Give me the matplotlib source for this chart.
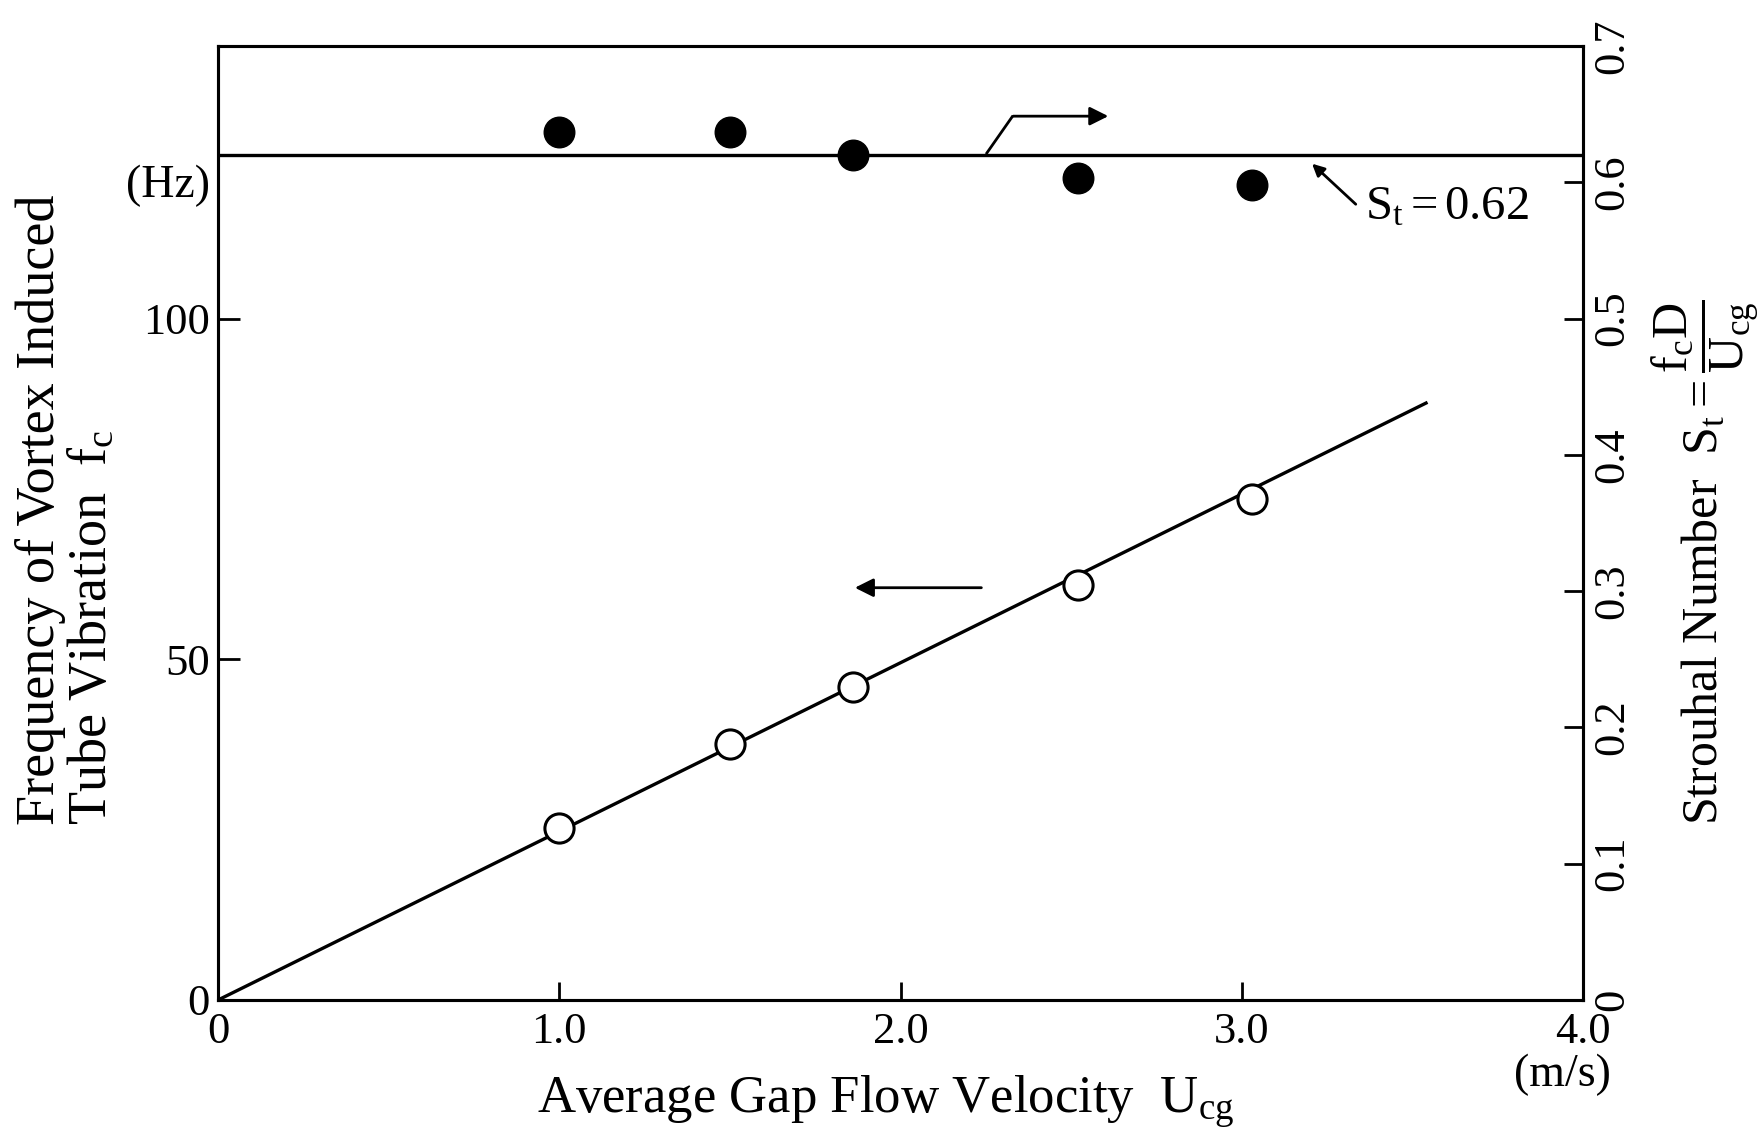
import numpy as np
import matplotlib.pyplot as plt

# serif look like the original figure
plt.rcParams['font.family'] = 'Liberation Serif'
plt.rcParams['mathtext.fontset'] = 'custom'
plt.rcParams['mathtext.rm'] = 'Liberation Serif'
plt.rcParams['mathtext.it'] = 'Liberation Serif:italic'
plt.rcParams['mathtext.bf'] = 'Liberation Serif:bold'

# gap flow velocity of each test (m/s)
u_cg = [1.0, 1.5, 1.86, 2.52, 3.03]
# vortex induced frequency fc (Hz) -> open circles, left axis
f_c = [25.3, 37.6, 45.9, 60.9, 73.5]
# strouhal number -> filled circles, right axis
s_t = [0.637, 0.637, 0.620, 0.603, 0.598]
st_line = 0.62

# straight line through the frequencies
fit_u = [0, 3.54]
fit_f = [0, 87.6]

x_ticks = [0, 1, 2, 3, 4]
x_labels = ['0', '1.0', '2.0', '3.0', '4.0']
f_ticks = [0, 50, 100]
f_labels = ['0', '50', '100']
st_ticks = [0, 0.1, 0.2, 0.3, 0.4, 0.5, 0.6, 0.7]
st_labels = ['0', '0.1', '0.2', '0.3', '0.4', '0.5', '0.6', '0.7']

fig = plt.figure(figsize=(17.63, 11.27), dpi=100)
ax = fig.add_axes([0.1237, 0.1127, 0.8979 - 0.1237, 0.9592 - 0.1127])
ax2 = ax.twinx()

lw = 2.2
for a in (ax, ax2):
    for s in a.spines.values():
        s.set_linewidth(lw)

# left axis: frequency
ax.plot(fit_u, fit_f, color='black', lw=2.4, zorder=2)
ax.plot(u_cg, f_c, 'o', ms=21, mfc='white', mec='black', mew=2.2, zorder=3)
ax.set_xlim(0, 4)
ax.set_ylim(0, 140)
ax.set_xticks(x_ticks)
ax.set_xticklabels(x_labels)
ax.set_yticks(f_ticks)
ax.set_yticklabels(f_labels)
ax.tick_params(axis='x', direction='in', length=13, width=2, labelsize=32, pad=9)
ax.tick_params(axis='y', direction='in', length=16, width=2, labelsize=32, pad=6)

# right axis: strouhal number
ax2.axhline(st_line, color='black', lw=2.4, zorder=2)
ax2.plot(u_cg, s_t, 'o', ms=22, color='black', zorder=3)
ax2.set_ylim(0, 0.7)
ax2.set_yticks(st_ticks)
ax2.set_yticklabels(st_labels, rotation=90, va='center')
ax2.tick_params(axis='y', direction='in', length=14, width=2, labelsize=32, pad=7)

# arrows pointing at the axes each series belongs to
ax.annotate('', xy=(1.858, 60.5), xytext=(2.245, 60.5),
            arrowprops=dict(arrowstyle='-|>', color='black', lw=2, mutation_scale=28))
ax.plot([2.253, 2.327], [124.3, 129.6], color='black', lw=2)
ax.annotate('', xy=(2.617, 129.7), xytext=(2.322, 129.7),
            arrowprops=dict(arrowstyle='-|>', color='black', lw=2, mutation_scale=28))

# St = 0.62 label
ax.annotate('', xy=(3.2, 123.0), xytext=(3.34, 116.5),
            arrowprops=dict(arrowstyle='-|>', color='black', lw=2, mutation_scale=18))
ax.text(3.361, 114.6, r'$\mathrm{S_t}$$=$0.62', fontsize=35, ha='left', va='baseline')

# axis labels
fig.text(0.0227, 0.268, 'Frequency of Vortex Induced', fontsize=39, rotation=90,
         ha='center', va='bottom')
fig.text(0.0522, 0.268, r'Tube Vibration  f$_\mathrm{c}$', fontsize=39, rotation=90,
         ha='center', va='bottom')
fig.text(0.119, 0.835, '(Hz)', fontsize=33, ha='right', va='center')
fig.text(0.3046, 0.0124, r'Average Gap Flow Velocity  U$_\mathrm{cg}$', fontsize=38,
         ha='left', va='baseline')
fig.text(0.886, 0.046, '(m/s)', fontsize=33, ha='center', va='center')
fig.text(0.967, 0.268,
         r'Strouhal Number  $\mathrm{S_t}$$=\dfrac{\mathrm{f_cD}}{\mathrm{U_{cg}}}$',
         fontsize=36, rotation=90, ha='center', va='bottom')

fig.savefig('out.png', dpi=100)
